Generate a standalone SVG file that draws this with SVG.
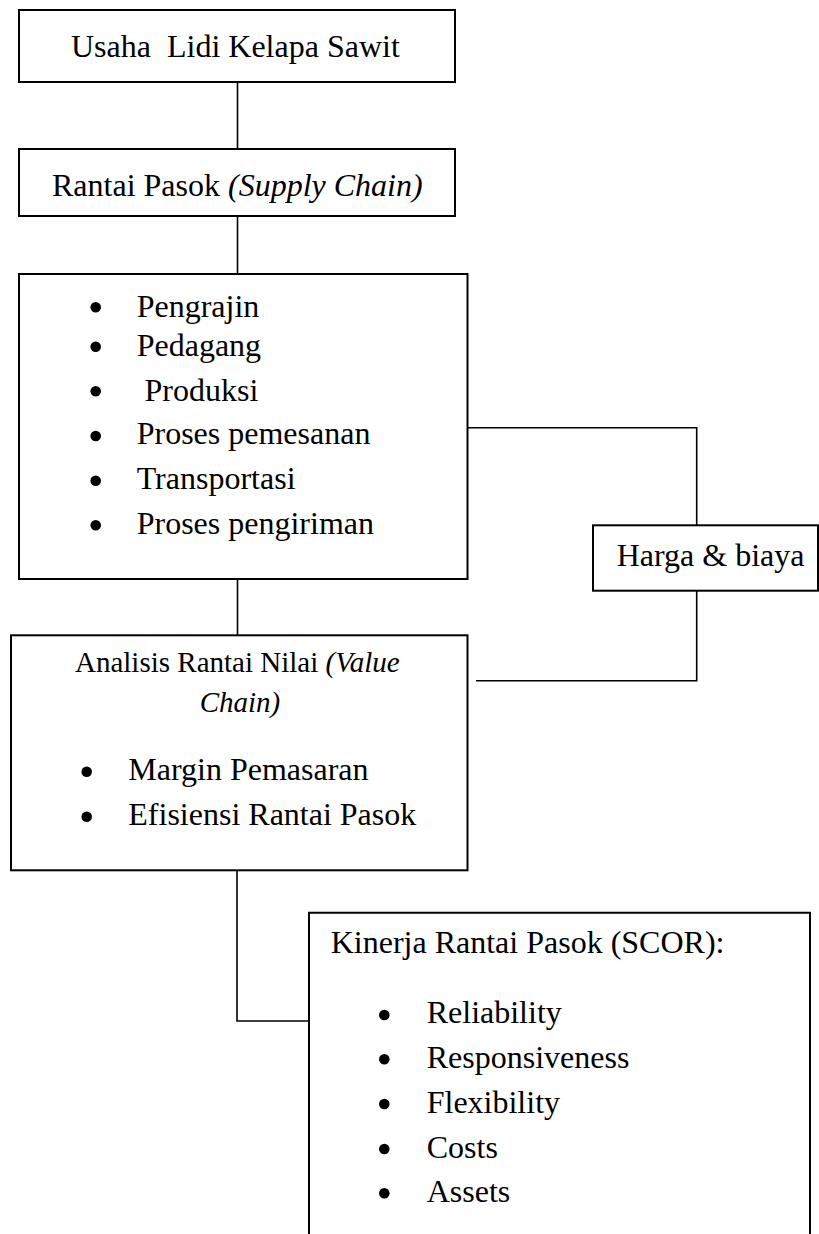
<svg xmlns="http://www.w3.org/2000/svg" width="819" height="1234" viewBox="0 0 819 1234">
<style>
text{font-family:"Liberation Serif","Times New Roman",serif;fill:#000;font-size:32px}
.box{fill:#fff;stroke:#000;stroke-width:2}
.con{fill:none;stroke:#000;stroke-width:1.6}
.it{font-style:italic}
.b{fill:#000}
.hd{font-size:29px}
</style>
<rect width="819" height="1234" fill="#fff"/>
<g id="connectors">
<line class="con" x1="237.5" y1="82" x2="237.5" y2="149"/>
<line class="con" x1="237.5" y1="216" x2="237.5" y2="274"/>
<line class="con" x1="237.5" y1="579" x2="237.5" y2="635"/>
<polyline class="con" points="468,427.7 696.7,427.7 696.7,525"/>
<polyline class="con" points="696.7,591 696.7,680.7 476,680.7"/>
<polyline class="con" points="237,871 237,1021 309,1021"/>
</g>
<g id="n1">
<rect class="box" x="19" y="10" width="436" height="72"/>
<text x="71" y="57" xml:space="preserve">Usaha  Lidi Kelapa Sawit</text>
</g>
<g id="n2">
<rect class="box" x="19" y="149" width="436" height="67"/>
<text x="52" y="196">Rantai Pasok <tspan class="it">(Supply Chain)</tspan></text>
</g>
<g id="n3">
<rect class="box" x="19" y="274" width="448.5" height="305"/>
<circle class="b" cx="95.7" cy="307.3" r="5.3"/>
<circle class="b" cx="95.7" cy="346.7" r="5.3"/>
<circle class="b" cx="95.7" cy="391.3" r="5.3"/>
<circle class="b" cx="95.7" cy="436" r="5.3"/>
<circle class="b" cx="95.7" cy="480.7" r="5.3"/>
<circle class="b" cx="95.7" cy="525.3" r="5.3"/>
<text x="136.7" y="316.7">Pengrajin</text>
<text x="136.7" y="356">Pedagang</text>
<text x="144.5" y="400.7">Produksi</text>
<text x="136.7" y="444">Proses pemesanan</text>
<text x="136.7" y="489">Transportasi</text>
<text x="136.7" y="534">Proses pengiriman</text>
</g>
<g id="n4">
<rect class="box" x="593" y="525.3" width="225" height="65.4"/>
<text x="616.7" y="565.7">Harga &amp; biaya</text>
</g>
<g id="n5">
<rect class="box" x="11" y="635.3" width="456.5" height="235"/>
<text class="hd" x="75" y="672.3">Analisis Rantai Nilai <tspan class="it">(Value</tspan></text>
<text class="hd it" x="240" y="711.7" text-anchor="middle">Chain)</text>
<circle class="b" cx="86.7" cy="771.7" r="5.3"/>
<circle class="b" cx="86.7" cy="816.7" r="5.3"/>
<text x="128.3" y="780">Margin Pemasaran</text>
<text x="128.3" y="825">Efisiensi Rantai Pasok</text>
</g>
<g id="n6">
<path class="box" d="M309 1236 V912.7 H810 V1236"/>
<text x="330.7" y="952.7">Kinerja Rantai Pasok (SCOR):</text>
<circle class="b" cx="384.3" cy="1015" r="5.3"/>
<circle class="b" cx="384.3" cy="1059.3" r="5.3"/>
<circle class="b" cx="384.3" cy="1104" r="5.3"/>
<circle class="b" cx="384.3" cy="1149" r="5.3"/>
<circle class="b" cx="384.3" cy="1193.3" r="5.3"/>
<text x="426.7" y="1023.3">Reliability</text>
<text x="426.7" y="1068.3">Responsiveness</text>
<text x="426.7" y="1112.7">Flexibility</text>
<text x="426.7" y="1157.7">Costs</text>
<text x="426.7" y="1202.3">Assets</text>
</g>
</svg>
